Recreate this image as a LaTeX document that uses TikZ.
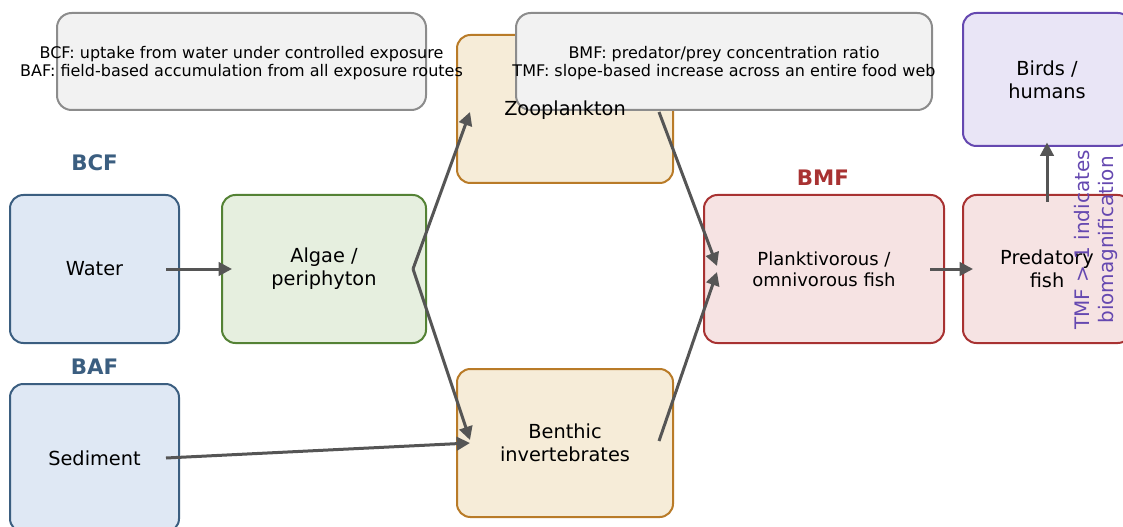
\documentclass[tikz,border=0pt]{standalone}
\usepackage{fontspec}
\setmainfont{DejaVu Sans}
\usetikzlibrary{arrows.meta,calc}
\definecolor{bluE}{HTML}{3B5E80}
\definecolor{bluF}{HTML}{DFE8F4}
\definecolor{grnE}{HTML}{548235}
\definecolor{grnF}{HTML}{E6EFDF}
\definecolor{orgE}{HTML}{B97B28}
\definecolor{orgF}{HTML}{F6ECD8}
\definecolor{redE}{HTML}{A83232}
\definecolor{redF}{HTML}{F6E3E3}
\definecolor{purE}{HTML}{6548B0}
\definecolor{purF}{HTML}{E9E5F6}
\definecolor{gryE}{HTML}{8C8C8C}
\definecolor{gryF}{HTML}{F2F2F2}
\definecolor{arr}{HTML}{555555}
\tikzset{
  mainfont/.style={font=\fontsize{14.5}{17.4}\selectfont},
  box/.style={draw, line width=1.5pt, rounded corners=10pt, align=center, inner sep=0pt,
    minimum height=111pt, mainfont},
  bluebox/.style={box, draw=bluE, fill=bluF, minimum width=126.75pt},
  greenbox/.style={box, draw=grnE, fill=grnF, minimum width=153pt},
  orangebox/.style={box, draw=orgE, fill=orgF, minimum width=162pt},
  redbox/.style={box, draw=redE, fill=redF},
  purplebox/.style={box, draw=purE, fill=purF, minimum width=126pt, minimum height=99.75pt},
  notebox/.style={draw=gryE, fill=gryF, line width=1.5pt, rounded corners=11pt, minimum height=72.75pt, inner sep=0pt},
  notetext/.style={align=center, inner sep=0pt, font=\fontsize{12}{13.5}\selectfont},
  tag/.style={font=\fontsize{16}{19}\selectfont\bfseries, inner sep=0pt},
  flow/.style={draw=arr, line width=2.25pt, -{Triangle[length=10pt,width=10pt]}},
}
\begin{document}
\begin{tikzpicture}[x=0.75pt, y=-0.75pt]
\useasboundingbox (0,0) rectangle (1123,527);
% boxes
\node[bluebox] (water) at (94.5,269) {Water};
\node[bluebox] (sed) at (94.5,458) {Sediment};
\node[greenbox] (algae) at (324,269) {Algae /\\periphyton};
\node[orangebox] (zoo) at (565,109) {};
\node[orangebox] (ben) at (565,443) {Benthic\\invertebrates};
\node[redbox, minimum width=180pt, font=\fontsize{13.5}{16}\selectfont] (plank) at (824,269) {Planktivorous /\\omnivorous fish};
\node[redbox, minimum width=126pt] (pred) at (1047,269) {Predatory\\fish};
\node[purplebox] (birds) at (1047,79.5) {Birds /\\humans};
% tags
\node[tag, text=bluE] (bcf) at (94.5,163) {BCF};
\node[tag, text=bluE] (baf) at (94.5,367) {BAF};
\node[tag, text=redE] (bmf) at (823,178) {BMF};
% arrows
\draw[flow] ([shift={(71.5,0)}]water.center) -- ([shift={(-92,0)}]algae.center);
\draw[flow] ([shift={(89,0)}]algae.center) -- ([shift={(-95,3)}]zoo.center);
\draw[flow] ([shift={(89,0)}]algae.center) -- ([shift={(-95,-3)}]ben.center);
\draw[flow] ([shift={(71.5,0)}]sed.center) -- ([shift={(-95,0)}]ben.center);
\draw[flow] ([shift={(94,3)}]zoo.center) -- ([shift={(-107,-3)}]plank.center);
\draw[flow] ([shift={(94,-2)}]ben.center) -- ([shift={(-107,3)}]plank.center);
\draw[flow] ([shift={(106,0)}]plank.center) -- ([shift={(-74,0)}]pred.center);
\draw[flow] ([shift={(0,-67)}]pred.center) -- ([shift={(0,63)}]birds.center);
% notes
\node[notebox, minimum width=276.75pt] (n1) at (241.5,61.5) {};
\node[notetext] (n1t) at ([yshift=-1.5pt]n1.center) {BCF: uptake from water under controlled exposure\\BAF: field-based accumulation from all exposure routes};
\node[notebox, minimum width=312pt] (n2) at (724,61.5) {};
\node[notetext] (n2t) at ([yshift=-1.5pt]n2.center) {BMF: predator/prey concentration ratio\\TMF: slope-based increase across an entire food web};
% zooplankton label above the note box
\node[mainfont, inner sep=0pt] (zoot) at ([yshift=-0.75pt]zoo.center) {Zooplankton};
% rotated note
\node[rotate=90, align=center, text=purE, inner sep=0pt, font=\fontsize{15}{18}\selectfont] (tmf) at (1096,240) {TMF > 1 indicates\\biomagnification};
\end{tikzpicture}
\end{document}
